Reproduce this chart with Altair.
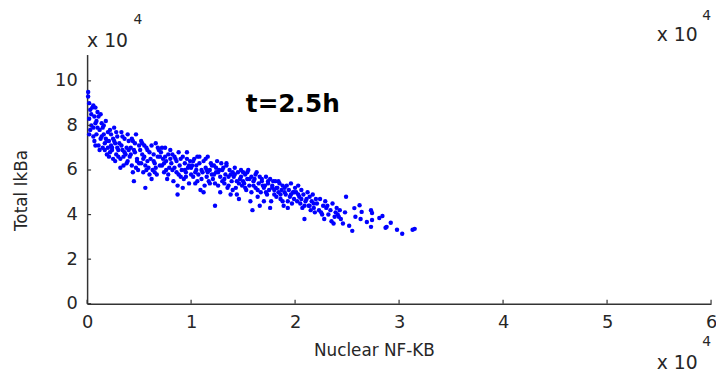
import altair as alt
import pandas as pd

# Scatter values in units of 1e4 (as displayed with the "x 10^4" multiplier)
nuclear_nfkb = [
    0.01,0.02,0.03,0.02,0.04,0.05,0.01,0.03,0.04,0.02,
    0.06,0.07,0.08,0.06,0.09,0.10,0.07,0.08,0.09,0.06,0.10,0.08,
    0.11,0.12,0.13,0.14,0.15,0.16,0.17,0.18,0.19,0.20,0.11,0.13,0.15,0.17,0.19,0.12,0.14,0.16,0.18,0.20,
    0.21,0.22,0.23,0.24,0.25,0.26,0.27,0.28,0.29,0.30,0.21,0.23,0.25,0.27,0.29,0.22,0.24,0.26,0.28,0.30,
    0.31,0.32,0.33,0.34,0.35,0.36,0.37,0.38,0.39,0.40,0.32,0.34,0.36,0.38,0.40,0.33,0.35,0.39,
    0.41,0.42,0.43,0.44,0.45,0.46,0.47,0.48,0.49,0.50,0.42,0.44,0.45,0.46,0.48,0.50,0.43,0.47,
    0.51,0.52,0.53,0.54,0.55,0.56,0.57,0.58,0.59,0.60,0.52,0.54,0.56,0.58,0.60,0.53,0.57,0.55,
    0.61,0.62,0.63,0.64,0.65,0.66,0.67,0.68,0.69,0.70,0.62,0.64,0.66,0.68,0.70,0.65,
    0.71,0.72,0.73,0.74,0.75,0.76,0.77,0.78,0.79,0.80,0.72,0.74,0.76,0.78,0.80,0.75,
    0.81,0.82,0.83,0.84,0.85,0.86,0.87,0.88,0.89,0.90,0.82,0.84,0.86,0.88,0.90,0.87,
    0.91,0.92,0.93,0.94,0.95,0.96,0.97,0.98,0.99,1.00,0.92,0.94,0.96,0.98,1.00,0.95,
    1.01,1.02,1.03,1.04,1.05,1.06,1.07,1.08,1.09,1.10,1.02,1.04,1.06,1.08,1.10,1.05,
    1.11,1.12,1.13,1.14,1.15,1.16,1.17,1.18,1.19,1.20,1.12,1.14,1.16,1.18,1.20,1.15,
    1.21,1.22,1.23,1.24,1.25,1.26,1.27,1.28,1.29,1.30,1.22,1.24,1.26,1.28,1.30,1.23,
    1.31,1.32,1.33,1.34,1.35,1.36,1.37,1.38,1.39,1.40,1.32,1.34,1.36,1.38,1.40,
    1.41,1.42,1.43,1.44,1.45,1.46,1.47,1.48,1.49,1.50,1.42,1.44,1.46,1.48,1.50,
    1.51,1.52,1.53,1.54,1.55,1.56,1.57,1.58,1.59,1.60,1.52,1.54,1.56,1.58,1.60,
    1.61,1.62,1.63,1.64,1.65,1.66,1.67,1.68,1.69,1.70,1.62,1.64,1.66,1.68,1.70,
    1.71,1.72,1.73,1.74,1.75,1.76,1.77,1.78,1.79,1.80,1.72,1.74,1.76,1.78,1.80,
    1.81,1.82,1.83,1.84,1.85,1.86,1.87,1.88,1.89,1.90,1.82,1.84,1.86,1.88,1.90,
    1.91,1.92,1.93,1.94,1.95,1.96,1.97,1.98,1.99,2.00,1.93,1.96,1.99,
    2.01,2.02,2.03,2.04,2.05,2.06,2.07,2.08,2.09,2.10,2.03,2.06,2.09,
    2.11,2.12,2.13,2.14,2.15,2.16,2.17,2.18,2.19,2.20,2.14,2.18,
    2.21,2.23,2.24,2.26,2.27,2.28,2.29,2.30,2.25,
    2.31,2.32,2.34,2.35,2.36,2.38,2.39,2.40,2.37,
    2.41,2.43,2.44,2.46,2.48,2.49,2.42,
    2.55,2.57,2.58,2.52,
    2.62,2.64,2.63,2.69,2.73,2.74,2.73,2.74,2.81,2.84,2.88,2.87,2.92,2.98,3.03,3.13,3.15,
]
total_ikba = [
    9.5,9.0,8.7,8.3,8.0,8.8,9.3,7.8,8.5,7.6,
    8.9,8.4,8.1,7.9,7.6,8.6,7.3,8.8,8.2,7.5,7.9,7.1,
    8.4,7.8,7.4,8.1,7.0,7.6,6.9,8.2,7.3,7.7,7.1,8.5,7.9,7.2,6.7,6.9,7.5,8.0,7.4,7.0,
    7.3,6.8,7.6,7.0,6.5,7.9,7.2,6.7,7.5,6.9,6.6,7.1,7.4,6.4,7.0,7.8,6.9,7.3,7.7,6.6,
    7.2,6.5,7.7,6.9,6.2,7.4,6.7,7.0,6.4,7.3,6.1,7.5,6.8,6.3,6.9,7.1,6.6,7.6,
    6.6,7.0,6.2,7.3,5.5,6.8,7.6,6.4,6.0,7.1,6.7,5.9,6.9,7.2,6.5,6.3,7.4,6.1,
    6.9,6.3,7.2,5.9,6.6,5.2,7.0,6.4,6.1,6.8,7.3,6.5,6.2,6.9,5.8,6.7,6.0,7.1,
    6.5,7.1,6.0,6.7,6.3,7.2,5.8,6.6,6.9,6.2,5.6,6.4,6.1,7.0,6.6,5.9,
    6.8,6.2,6.5,5.9,7.0,6.4,5.6,6.7,6.1,6.5,7.0,6.3,6.0,5.8,6.9,6.6,
    6.3,6.7,5.5,6.1,6.5,5.9,4.9,6.8,6.2,5.7,6.0,6.6,6.4,5.8,6.5,5.3,
    6.0,6.6,5.6,6.3,5.9,6.8,6.1,5.4,6.4,5.8,5.2,6.0,6.5,6.2,6.1,5.7,
    6.2,5.7,6.5,5.4,6.0,6.6,5.8,6.3,5.1,6.0,6.4,5.9,5.5,6.6,5.6,6.2,
    5.9,6.4,5.3,6.1,5.7,6.6,5.5,6.0,6.3,5.8,5.0,6.5,5.9,5.4,6.2,6.0,
    5.6,6.2,4.4,5.9,6.4,5.3,6.0,5.7,6.3,5.5,5.8,6.1,5.9,5.0,6.0,5.4,
    6.1,5.4,5.8,6.3,5.2,5.7,6.0,4.9,5.5,5.9,5.6,6.2,5.3,5.8,5.1,
    5.7,6.1,5.2,5.5,5.9,4.7,5.6,6.0,5.3,5.5,5.8,4.9,5.4,5.7,5.9,
    5.4,5.8,5.1,5.6,6.0,5.3,4.6,5.7,4.2,5.5,5.2,5.9,5.6,5.0,5.3,
    5.6,5.2,5.9,4.8,5.4,5.7,5.0,5.5,5.3,4.6,5.8,5.1,4.4,5.6,5.2,
    5.3,5.7,4.9,5.4,5.1,5.6,4.6,5.2,5.5,4.9,5.0,5.5,4.3,5.3,5.1,
    5.5,4.8,5.2,5.0,5.4,4.7,5.1,5.3,4.4,5.0,5.2,5.5,4.9,4.6,5.2,
    4.9,5.3,4.6,5.1,4.8,5.4,4.5,5.0,4.7,5.2,4.3,4.9,5.0,
    5.0,4.6,5.3,4.8,4.5,5.1,4.3,4.9,3.8,4.6,4.9,4.7,4.4,
    4.7,5.0,4.4,4.8,4.2,4.6,4.9,4.5,4.1,4.7,4.4,4.3,
    4.5,4.2,4.7,4.0,4.4,3.8,4.6,4.3,4.1,
    4.4,4.0,4.2,3.7,4.5,3.9,4.1,4.3,3.6,
    4.0,4.2,3.8,3.6,4.1,4.8,3.9,
    3.27,4.29,3.9,3.5,
    4.42,4.12,3.80,3.67,4.20,4.07,3.45,3.76,3.85,3.94,3.45,3.41,3.63,3.32,3.14,3.32,3.36,
]

x_ticks = [0, 1, 2, 3, 4, 5, 6]
y_ticks = [0, 2, 4, 6, 8, 10]

W, H = 631, 252
FONT = "DejaVu Sans"
INK = "#262626"

pts = pd.DataFrame({"nfkb": nuclear_nfkb, "ikba": total_ikba})
xt = pd.DataFrame({"v": x_ticks})
yt = pd.DataFrame({"v": y_ticks})

xscale = alt.Scale(domain=[0, 6], nice=False, zero=False)
yscale = alt.Scale(domain=[0, 11.18], nice=False, zero=False)

scatter = alt.Chart(pts).mark_point(
    filled=True, shape="circle", size=20, color="#0000ff", opacity=1
).encode(
    x=alt.X("nfkb:Q", scale=xscale, axis=alt.Axis(
        values=x_ticks, format="d", title="Nuclear NF-KB", grid=False, ticks=False,
        labelFlush=False, labelOverlap=False,
        labelFontSize=18, labelPadding=10, labelColor=INK, labelFont=FONT,
        titleFont=FONT, titleFontSize=17, titleFontWeight="normal", titleColor=INK,
        titleX=290, titleY=39, titleBaseline="top", titleAnchor="middle", titleAlign="center",
        domainColor="#333333", domainWidth=1.5)),
    y=alt.Y("ikba:Q", scale=yscale, axis=alt.Axis(
        values=y_ticks, format="d", title="Total IkBa", grid=False, ticks=False,
        labelFlush=False, labelOverlap=False,
        labelFontSize=18, labelPadding=10, labelColor=INK, labelFont=FONT,
        titleFont=FONT, titleFontSize=17, titleFontWeight="normal", titleColor=INK,
        titleX=-66, titleY=137, titleBaseline="middle", titleAlign="center", titleAngle=-90,
        domainColor="#333333", domainWidth=1.5)),
)

xtick_marks = alt.Chart(xt).mark_rule(color="#333333", strokeWidth=1.2).encode(
    x=alt.X("v:Q", scale=xscale), y=alt.value(H), y2=alt.value(H - 4))
ytick_marks = alt.Chart(yt).mark_rule(color="#333333", strokeWidth=1.2).encode(
    y=alt.Y("v:Q", scale=yscale), x=alt.value(0), x2=alt.value(4))

def label(text, x, y, size, weight="normal", align="left"):
    return alt.Chart(pd.DataFrame({"t": [text]})).mark_text(
        font=FONT, fontSize=size, fontWeight=weight, color=INK if weight == "normal" else "#000000",
        align=align, baseline="middle"
    ).encode(text="t:N", x=alt.value(x), y=alt.value(y))

annotations = [
    label("t=2.5h", 208, 50, 25, weight="bold", align="center"),
    label("x 10", 0, -14, 19), label("4", 47, -35, 14),
    label("x 10", 576, -20, 19), label("4", 622, -39, 14),
    label("x 10", 576, 312, 19), label("4", 622, 291, 14),
]

chart = alt.layer(scatter, xtick_marks, ytick_marks, *annotations).properties(
    width=W, height=H,
    autosize=alt.AutoSizeParams(type="none"),
    padding={"left": 80, "top": 45, "right": 5, "bottom": 71},
    background="white",
).configure_view(stroke=None)

chart.save("out.html", embed_options={"renderer": "svg", "actions": False})
